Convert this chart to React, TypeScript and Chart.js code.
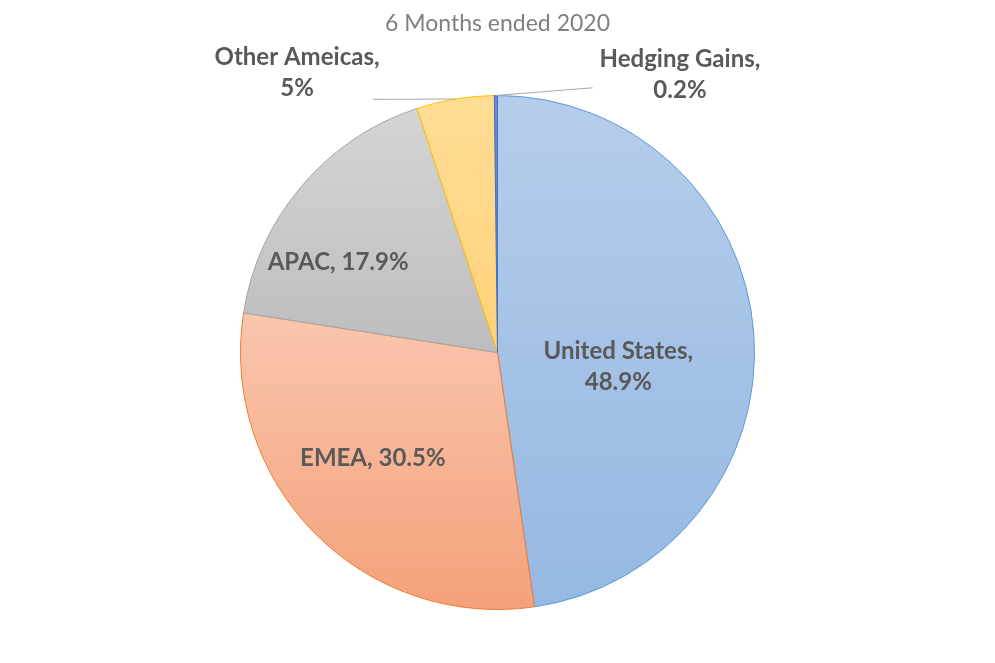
import React, { useEffect, useRef } from "react";
import { Chart, registerables } from "chart.js";

Chart.register(...registerables);

const categories = ["United States", "EMEA", "APAC", "Other Ameicas", "Hedging Gains"];
const values = [48.9, 30.5, 17.9, 5, 0.2];
const valueLabels = ["48.9%", "30.5%", "17.9%", "5%", "0.2%"];
const chartTitle = "6 Months ended 2020";

const topColors = ["#B5CDEB", "#F9C6AE", "#D5D5D5", "#FFDD95", "#6A8FD0"];
const bottomColors = ["#95B8E2", "#F4A17A", "#BDBDBD", "#FFD27A", "#4472C4"];
const borderColors = ["#5B9BD5", "#ED7D31", "#A5A5A5", "#FFC000", "#4472C4"];

// label placement relative to pie center, in units of the outer radius
const labelPlacement = [
  { dx: 0.47, dy: 0.055, lines: 2, leader: false },
  { dx: -0.485, dy: 0.41, lines: 1, leader: false },
  { dx: -0.62, dy: -0.35, lines: 1, leader: false },
  { dx: -0.78, dy: -1.09, lines: 2, leader: true, lx: -0.485, ly: -0.985 },
  { dx: 0.71, dy: -1.08, lines: 2, leader: true, lx: 0.37, ly: -1.03 },
];

function sliceGradient(ctx: any) {
  const chart = ctx.chart;
  const i = ctx.dataIndex;
  const area = chart.chartArea;
  if (!area) return topColors[i];
  const cx = (area.left + area.right) / 2;
  const cy = (area.top + area.bottom) / 2;
  const r = Math.min(area.right - area.left, area.bottom - area.top) / 2;
  const total = values.reduce((a, b) => a + b, 0);
  let acc = 0;
  for (let k = 0; k < i; k++) acc += values[k];
  const a0 = (acc / total) * 360;
  const a1 = ((acc + values[i]) / total) * 360;
  const toRad = Math.PI / 180;
  const ys = [cy, cy - r * Math.cos(a0 * toRad), cy - r * Math.cos(a1 * toRad)];
  let ymin = Math.min(...ys);
  let ymax = Math.max(...ys);
  if (a0 <= 0.0001 || a1 >= 359.999) ymin = cy - r;
  if (a0 <= 180 && a1 >= 180) ymax = cy + r;
  if (ymax - ymin < 1) ymax = ymin + 1;
  const g = chart.ctx.createLinearGradient(0, ymin, 0, ymax);
  g.addColorStop(0, topColors[i]);
  g.addColorStop(1, bottomColors[i]);
  return g;
}

const labelPlugin = {
  id: "sliceLabels",
  afterDatasetsDraw(chart: any) {
    const meta = chart.getDatasetMeta(0);
    const ctx = chart.ctx;
    ctx.save();
    meta.data.forEach((arc: any, i: number) => {
      const p = labelPlacement[i];
      const cx = arc.x;
      const cy = arc.y;
      const r = arc.outerRadius;
      const tx = cx + p.dx * r;
      const ty = cy + p.dy * r;
      if (p.leader) {
        const mid = (arc.startAngle + arc.endAngle) / 2;
        const ex = cx + Math.cos(mid) * r;
        const ey = cy + Math.sin(mid) * r;
        ctx.strokeStyle = "#A6A6A6";
        ctx.lineWidth = 1;
        ctx.beginPath();
        ctx.moveTo(cx + p.lx * r, cy + p.ly * r);
        ctx.lineTo(ex, ey);
        ctx.stroke();
      }
      ctx.fillStyle = "#595959";
      ctx.font = "bold 24px Lato";
      ctx.textAlign = "center";
      ctx.textBaseline = "middle";
      if (p.lines === 2) {
        ctx.fillText(categories[i] + ",", tx, ty - 15.5);
        ctx.fillText(valueLabels[i], tx, ty + 15.5);
      } else {
        ctx.fillText(categories[i] + ", " + valueLabels[i], tx, ty);
      }
    });
    ctx.restore();
  },
};

export default function App() {
  const ref = useRef<HTMLCanvasElement>(null);
  useEffect(() => {
    document.body.style.margin = "0";
    const chart = new Chart(ref.current!, {
      type: "pie",
      data: {
        labels: categories,
        datasets: [
          {
            data: values,
            backgroundColor: sliceGradient as any,
            borderColor: borderColors,
            borderWidth: 1,
          },
        ],
      },
      options: {
        animation: false,
        responsive: false,
        maintainAspectRatio: false,
        layout: { padding: { top: 0, bottom: 53, left: 0, right: 0 } },
        plugins: {
          legend: { display: false },
          tooltip: { enabled: false },
          title: {
            display: true,
            text: chartTitle,
            color: "#7F7F7F",
            font: { family: "Lato", size: 23, weight: "normal" },
            padding: { top: 10, bottom: 57.4 },
          },
        },
      },
      plugins: [labelPlugin],
    });
    return () => chart.destroy();
  }, []);
  return (
    <div style={{ position: "fixed", left: 0, top: 0, width: 995, height: 663, background: "#fff" }}>
      <canvas ref={ref} width={995} height={663} style={{ width: 995, height: 663 }} />
    </div>
  );
}
